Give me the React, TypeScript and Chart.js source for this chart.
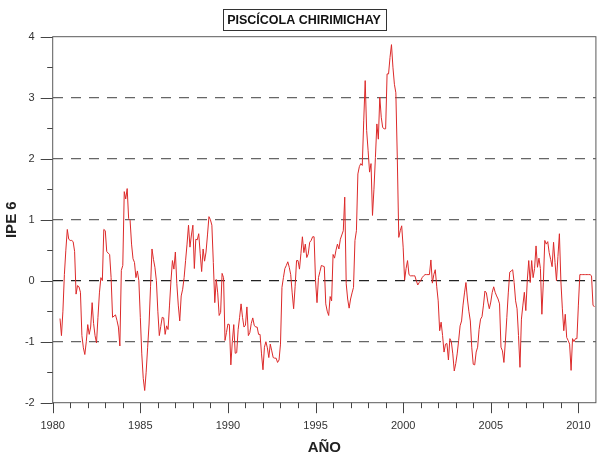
import { useEffect, useRef } from "react";
import { Chart, registerables } from "chart.js";

Chart.register(...registerables);

// ---- data ----
const START_YEAR = 1980;
const START_MONTH = 6; // first value: June 1980, monthly values afterwards

const ipe1980s = [
  /*1980 Jun-Dec*/ -0.62, -0.9, -0.5, 0.1, 0.5, 0.84, 0.68,
  /*1981*/ 0.66, 0.66, 0.64, 0.48, -0.22, -0.08, -0.1, -0.19, -0.9, -1.1, -1.21, -1.0,
  /*1982*/ -0.72, -0.88, -0.76, -0.36, -0.7, -0.9, -1.02, -0.6, -0.2, 0.05, 0.0, 0.84,
  /*1983*/ 0.82, 0.48, 0.45, 0.43, 0.05, -0.6, -0.58, -0.56, -0.65, -0.76, -1.07, 0.17,
  /*1984*/ 0.25, 1.46, 1.34, 1.51, 1.02, 0.99, 0.6, 0.36, 0.3, 0.05, 0.16, 0.0,
  /*1985*/ -0.6, -1.2, -1.6, -1.8, -1.5, -1.1, -0.71, -0.1, 0.52, 0.35, 0.22, 0.0,
  /*1986*/ -0.5, -0.9, -0.75, -0.6, -0.61, -0.88, -0.74, -0.8, -0.4, 0.0, 0.33, 0.19,
  /*1987*/ 0.47, -0.05, -0.4, -0.66, -0.25, -0.14, 0.05, 0.33, 0.6, 0.91, 0.55, 0.75,
  /*1988*/ 0.91, 0.2, 0.68, 0.67, 0.77, 0.45, 0.15, 0.52, 0.32, 0.47, 0.75, 1.05,
  /*1989*/ 1.0, 0.91, 0.3, -0.36, 0.02, -0.2, -0.57, -0.52, 0.12, 0.05, -0.98, -0.85,
];

const ipe1990s = [
  /*1990*/ -0.71, -0.72, -1.38, -1.0, -0.72, -1.19, -1.18, -0.8, -0.6, -0.38, -0.6, -0.76,
  /*1991*/ -0.73, -0.43, -0.9, -0.85, -0.7, -0.61, -0.73, -0.76, -0.76, -0.88, -0.88, -1.2,
  /*1992*/ -1.46, -1.09, -1.0, -1.1, -1.26, -1.04, -1.15, -1.26, -1.27, -1.27, -1.34, -1.3,
  /*1993*/ -1.04, -0.11, 0.05, 0.2, 0.25, 0.31, 0.22, 0.1, -0.2, -0.46, -0.1, 0.33,
  /*1994*/ 0.33, 0.19, 0.45, 0.72, 0.46, 0.6, 0.38, 0.44, 0.63, 0.66, 0.72, 0.72,
  /*1995*/ 0.0, -0.36, 0.05, 0.15, 0.25, 0.24, 0.23, -0.38, -0.5, -0.57, -0.26, -0.33,
  /*1996*/ 0.43, 0.37, 0.5, 0.6, 0.52, 0.68, 0.75, 0.82, 1.37, -0.05, -0.3, -0.45,
  /*1997*/ -0.3, -0.2, -0.11, 0.66, 0.82, 1.75, 1.87, 1.92, 1.89, 2.62, 3.28, 2.46,
  /*1998*/ 2.13, 1.78, 1.92, 1.07, 1.5, 2.02, 2.57, 2.32, 3.01, 2.68, 2.51, 2.49,
  /*1999*/ 2.49, 3.39, 3.39, 3.66, 3.87, 3.5, 3.22, 3.08, 2.0, 0.71, 0.82, 0.9,
];

const ipe2000s = [
  /*2000*/ 0.55, 0.01, 0.2, 0.33, 0.1, 0.08, 0.08, 0.08, 0.08, 0.0, -0.07, -0.03,
  /*2001*/ 0.0, 0.05, 0.08, 0.1, 0.1, 0.1, 0.1, 0.34, -0.04, 0.1, 0.18, -0.1,
  /*2002*/ -0.33, -0.82, -0.68, -0.9, -1.17, -1.04, -1.03, -1.3, -0.95, -1.0, -1.2, -1.48,
  /*2003*/ -1.36, -1.2, -0.98, -0.74, -0.66, -0.4, -0.2, -0.03, -0.3, -0.5, -0.66, -1.1,
  /*2004*/ -1.37, -1.38, -1.17, -1.09, -0.8, -0.63, -0.59, -0.4, -0.17, -0.2, -0.35, -0.46,
  /*2005*/ -0.35, -0.19, -0.1, -0.19, -0.25, -0.3, -0.38, -1.09, -1.15, -1.34, -1.0, -0.6,
  /*2006*/ -0.2, 0.14, 0.16, 0.18, -0.03, -0.33, -0.46, -0.9, -1.42, -0.63, -0.4, -0.19,
  /*2007*/ -0.49, 0.0, 0.33, -0.03, 0.33, 0.05, 0.2, 0.57, 0.22, 0.37, 0.2, -0.55,
  /*2008*/ -0.03, 0.66, 0.6, 0.64, 0.46, 0.35, 0.23, 0.63, 0.3, 0.0, 0.4, 0.77,
  /*2009*/ 0.0, -0.45, -0.82, -0.55, -0.93, -0.98, -1.04, -1.47, -0.95, -1.0, -0.95, -0.95,
  /*2010*/ -0.4, 0.1, 0.1, 0.1, 0.1, 0.1, 0.1, 0.1, 0.1, 0.08, -0.4, -0.43,
];

const ipeValues = [...ipe1980s, ...ipe1990s, ...ipe2000s];

const yearTicks = [1980, 1985, 1990, 1995, 2000, 2005, 2010];
const yTicks = [-2, -1, 0, 1, 2, 3, 4];

const CHART_TITLE = "PISCÍCOLA CHIRIMICHAY";
const X_TITLE = "AÑO";
const Y_TITLE = "IPE 6";

const FONT = "Arial, 'Liberation Sans', Helvetica, sans-serif";

const decorPlugin = {
  id: "decor",
  afterDraw(chart: any) {
    const { ctx, chartArea: a, scales } = chart;
    const xs = scales.x;
    const ys = scales.y;
    ctx.save();
    // frame
    ctx.strokeStyle = "#5a5a5a";
    ctx.lineWidth = 1;
    ctx.setLineDash([]);
    ctx.strokeRect(a.left, a.top, a.right - a.left, a.bottom - a.top);
    // y ticks (major every 1, minor every 0.5)
    ctx.strokeStyle = "#444";
    ctx.beginPath();
    for (let k = -4; k <= 8; k++) {
      const py = Math.round(ys.getPixelForValue(k / 2)) + 0.5;
      const len = k % 2 === 0 ? 12 : 5.5;
      ctx.moveTo(a.left - len, py);
      ctx.lineTo(a.left, py);
    }
    // x ticks (major every 5 years, minor every year)
    for (let yr = 1980; yr <= 2010; yr++) {
      const px = Math.round(xs.getPixelForValue(yr)) + 0.5;
      const len = yr % 5 === 0 ? 10.5 : 5.5;
      ctx.moveTo(px, a.bottom);
      ctx.lineTo(px, a.bottom + len);
    }
    ctx.stroke();
    // title box
    ctx.font = `bold 12.5px ${FONT}`;
    ctx.fillStyle = "#111";
    ctx.textAlign = "center";
    ctx.textBaseline = "middle";
    const cx = 304;
    const cy = 20;
    const w = ctx.measureText(CHART_TITLE).width;
    ctx.strokeStyle = "#333";
    ctx.strokeRect(Math.round(cx - w / 2 - 4.5) + 0.5, 9.5, Math.round(w + 9), 21);
    ctx.fillText(CHART_TITLE, cx, cy + 0.5);
    ctx.restore();
  },
};

export default function App() {
  const canvasRef = useRef<HTMLCanvasElement | null>(null);

  useEffect(() => {
    const canvas = canvasRef.current;
    if (!canvas) return;
    const points = ipeValues.map((v, i) => ({
      x: START_YEAR + (START_MONTH - 1 + i) / 12,
      y: v,
    }));
    const chart = new Chart(canvas, {
      type: "line",
      data: {
        datasets: [
          {
            data: points,
            borderColor: "#dc2a2a",
            borderWidth: 1,
            pointRadius: 0,
            tension: 0,
            fill: false,
          },
        ],
      },
      options: {
        responsive: false,
        animation: false,
        devicePixelRatio: 1,
        layout: { padding: { top: 36.7, right: 11.8, bottom: 0, left: 0 } },
        plugins: {
          legend: { display: false },
          tooltip: { enabled: false },
          title: { display: false },
        },
        scales: {
          x: {
            type: "linear",
            min: 1980,
            max: 2011,
            afterFit: (s: any) => {
              s.height = 54.3;
            },
            afterBuildTicks: (s: any) => {
              s.ticks = yearTicks.map((v) => ({ value: v }));
            },
            ticks: {
              padding: 17,
              autoSkip: false,
              maxRotation: 0,
              color: "#333",
              font: { family: FONT, size: 11 },
              callback: (v: any) => String(v),
            },
            grid: { display: false, drawTicks: false },
            border: { display: false },
            title: {
              display: true,
              text: X_TITLE,
              color: "#222",
              font: { family: FONT, size: 15, weight: "bold" },
              padding: { top: 0, bottom: 0 },
            },
          },
          y: {
            type: "linear",
            min: -2,
            max: 4,
            afterFit: (s: any) => {
              s.width = 52.7;
            },
            afterBuildTicks: (s: any) => {
              s.ticks = yTicks.map((v) => ({ value: v }));
            },
            ticks: {
              padding: 18,
              color: "#333",
              font: { family: FONT, size: 11 },
              callback: (v: any) => String(v),
            },
            grid: {
              drawTicks: false,
              lineWidth: 1.3,
              color: (c: any) => {
                const v = c.tick ? c.tick.value : null;
                if (v === 0) return "#222";
                if (v === -2 || v === 4) return "rgba(0,0,0,0)";
                return "#666";
              },
            },
            border: { display: false, dash: [10, 8] },
            title: {
              display: true,
              text: Y_TITLE,
              color: "#222",
              font: { family: FONT, size: 15, weight: "bold" },
              padding: { top: 3, bottom: 0 },
            },
          },
        },
      } as any,
      plugins: [decorPlugin],
    });
    return () => chart.destroy();
  }, []);

  return (
    <div
      style={{
        position: "absolute",
        left: 0,
        top: 0,
        width: 608,
        height: 457,
        background: "#fff",
      }}
    >
      <canvas ref={canvasRef} width={608} height={457} style={{ display: "block" }} />
    </div>
  );
}
